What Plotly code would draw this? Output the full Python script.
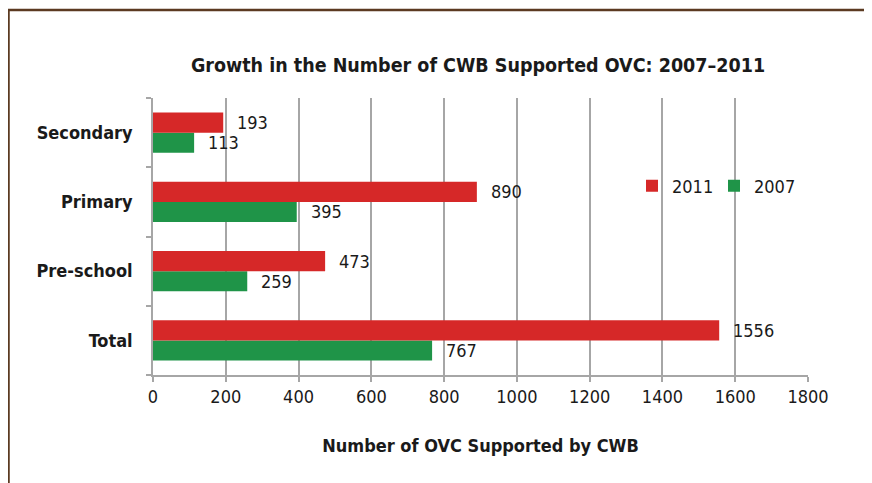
import plotly.graph_objects as go

categories = ["Total", "Pre-school", "Primary", "Secondary"]
values_2007 = [767, 259, 395, 113]
values_2011 = [1556, 473, 890, 193]
x_ticks = [0, 200, 400, 600, 800, 1000, 1200, 1400, 1600, 1800]

RED = "#d62828"
GREEN = "#1f9448"
GRID = "#a6a6a6"
FONT = "DejaVu Sans Condensed, Liberation Sans Narrow, Arial Narrow, sans-serif"
TXT = "#1a1a1a"

# page body has an 8px margin; figure is sized/placed to compensate
OFF = 8
W, H = 872 - OFF, 483 - OFF
L, R, T, B = 153 - OFF, 64, 98 - OFF, 108
pw, ph = W - L - R, H - T - B

def sx(p):  # screen x pixel -> paper
    return (p - OFF - L) / pw

def sy(p):  # screen y pixel -> paper
    return (H - B - (p - OFF)) / ph

fig = go.Figure()
fig.add_trace(go.Bar(y=categories, x=values_2007, orientation="h", name="2007",
                     marker=dict(color=GREEN, line=dict(width=0))))
fig.add_trace(go.Bar(y=categories, x=values_2011, orientation="h", name="2011",
                     marker=dict(color=RED, line=dict(width=0))))

anns = []
for c, v in zip(categories, values_2011):
    anns.append(dict(x=v, y=c, xref="x", yref="y", text=str(v), showarrow=False,
                     xanchor="left", yanchor="middle", xshift=12, yshift=10,
                     font=dict(family=FONT, size=18, color=TXT)))
for c, v in zip(categories, values_2007):
    anns.append(dict(x=v, y=c, xref="x", yref="y", text=str(v), showarrow=False,
                     xanchor="left", yanchor="middle", xshift=12, yshift=-10,
                     font=dict(family=FONT, size=18, color=TXT)))

shapes = [dict(type="rect", xref="paper", yref="paper",
               x0=sx(8.5), x1=sx(872 + 40),
               y0=sy(483 + 40), y1=sy(10),
               line=dict(color="#5b3a21", width=2.5), fillcolor="rgba(0,0,0,0)",
               layer="below")]

fig.update_layout(
    width=W, height=H,
    margin=dict(l=L, r=R, t=T, b=B),
    paper_bgcolor="white", plot_bgcolor="white",
    barmode="group", bargap=0.42, bargroupgap=0,
    font=dict(family=FONT, color=TXT),
    title=dict(text="<b>Growth in the Number of CWB Supported OVC: 2007–2011</b>",
               x=sx(478), xref="paper", xanchor="center",
               y=1 - (65 - OFF) / H, yref="container", yanchor="middle",
               font=dict(family=FONT, size=19.5, color=TXT)),
    xaxis=dict(range=[0, 1800], tickvals=x_ticks, ticktext=[str(t) for t in x_ticks],
               showgrid=True, gridcolor=GRID, gridwidth=1.5,
               showline=True, linecolor=GRID, linewidth=1.5,
               ticks="outside", ticklen=5, tickcolor=GRID, tickwidth=1.5,
               zeroline=False,
               tickfont=dict(family=FONT, size=18, color=TXT),
               title=dict(text="<b>Number of OVC Supported by CWB</b>",
                          font=dict(family=FONT, size=18, color=TXT), standoff=33)),
    yaxis=dict(categoryorder="array", categoryarray=categories,
               showline=True, linecolor=GRID, linewidth=1.5,
               ticks="outside", ticklen=5, tickcolor=GRID, tickwidth=1.5,
               tickson="boundaries", showgrid=False, ticklabelstandoff=15,
               tickfont=dict(family=FONT, size=18, color=TXT),
               tickprefix="<b>", ticksuffix="</b>"),
    legend=dict(orientation="h", traceorder="reversed", entrywidth=37,
                x=sx(632), y=sy(186), xanchor="left", yanchor="middle",
                bgcolor="rgba(0,0,0,0)", font=dict(family=FONT, size=18, color=TXT)),
    annotations=anns,
    shapes=shapes,
)

fig.write_html("out.html")
